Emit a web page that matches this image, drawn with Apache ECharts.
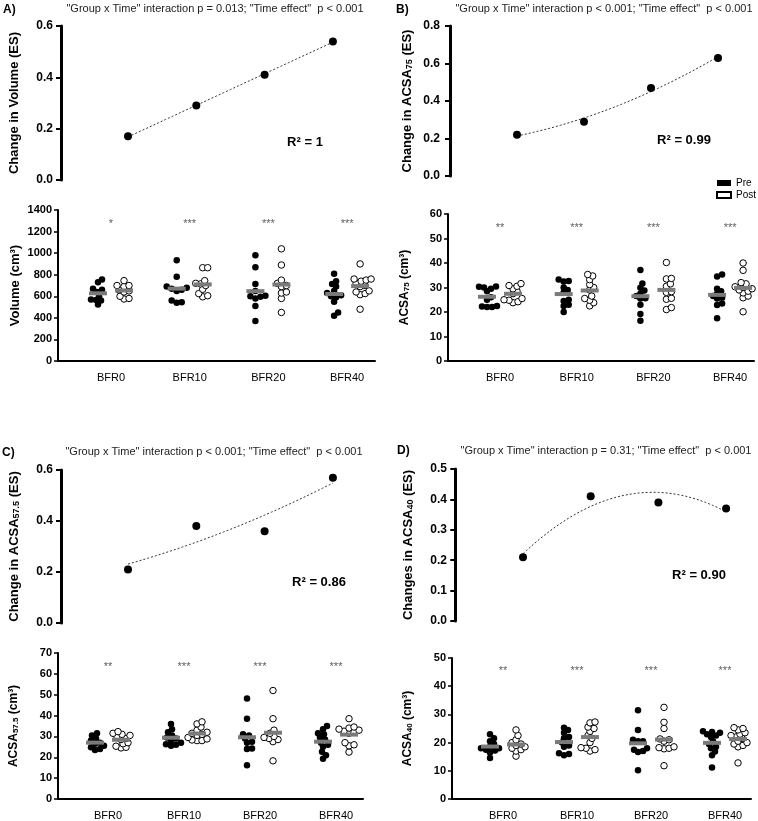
<!DOCTYPE html>
<html>
<head>
<meta charset="utf-8">
<script src="https://cdn.jsdelivr.net/npm/echarts@6/dist/echarts.min.js"></script>
<style>
  html, body { margin: 0; padding: 0; background: #fff; }
  #main { width: 758px; height: 821px; }
</style>
</head>
<body>
<div id="main"></div>
<script>
var FONT = '"Liberation Sans", Arial, sans-serif';
var groups = ['BFR0', 'BFR10', 'BFR20', 'BFR40'];

// change in effect size (top panels)
var esVolume = [0.17, 0.29, 0.41, 0.54];
var esAcsa75 = [0.22, 0.29, 0.47, 0.63];
var esAcsa575 = [0.21, 0.38, 0.36, 0.57];
var esAcsa40 = [0.21, 0.41, 0.39, 0.37];

// individual values, one list per group (BFR0, BFR10, BFR20, BFR40)
var volPre = [
  [525, 560, 565, 570, 600, 640, 660, 670, 730, 755],
  [540, 545, 560, 650, 660, 670, 680, 690, 780, 935],
  [370, 510, 580, 595, 600, 605, 650, 715, 870, 980],
  [420, 450, 550, 590, 600, 610, 630, 650, 690, 715, 740, 810]
];
var volPost = [
  [575, 580, 600, 640, 650, 660, 690, 700, 700, 745],
  [595, 605, 625, 665, 700, 715, 720, 745, 865, 865],
  [450, 580, 630, 640, 690, 700, 720, 750, 890, 1040],
  [480, 615, 625, 640, 650, 690, 700, 720, 740, 750, 760, 760, 900]
];
var a75Pre = [
  [22, 22, 22.2, 22.5, 25, 26, 28.5, 29.5, 30, 30.3, 30.4],
  [20, 22.5, 23, 24.5, 25, 28, 29, 30, 32.5, 32.7, 33.3],
  [16.4, 19.2, 23, 25.5, 25.6, 26.5, 27.5, 28.8, 29.9, 31.6, 37.1],
  [17.4, 22.9, 23.5, 25.5, 25.8, 26.5, 27.5, 28.5, 29.5, 34.5, 35.3]
];
var a75Post = [
  [23.8, 24.2, 24.8, 25, 25.5, 27.5, 28.5, 29.5, 30.5, 30.8, 31.6],
  [22.5, 23.8, 24.8, 25.5, 26.5, 29, 30, 31.2, 33.2, 34.7, 35.3],
  [21, 21.8, 25.2, 25.6, 28, 28.3, 30.5, 31.5, 33.5, 33.7, 40.2],
  [20.1, 25.8, 26.5, 27.8, 28.5, 29, 29.5, 30, 30.3, 31.5, 32, 37, 40]
];
var a575Pre = [
  [23.5, 24, 24.8, 25.5, 26.5, 27, 28, 29, 30.5, 31.5],
  [25.5, 26, 26.3, 27, 28, 29, 29.5, 30.5, 32, 33.5, 36],
  [16.2, 24, 24.2, 27, 27.5, 29, 30.5, 31, 38.5, 48.2],
  [19.3, 21, 22.6, 25, 26, 27, 28.5, 29.5, 31, 31.5, 33.5, 35]
];
var a575Post = [
  [24.5, 24.8, 25.3, 26.5, 27, 28.5, 29, 30, 30.5, 31, 31.5, 32.3],
  [28, 28, 28.3, 28.8, 29.5, 30.5, 31, 31.5, 32, 33, 34.5, 36, 37],
  [18.3, 27.5, 28.5, 29, 29.5, 30, 31.5, 33, 38.5, 52],
  [22.5, 25.5, 26, 27, 31.5, 32.5, 32, 33, 33.5, 34, 34.5, 38.5]
];
var a40Pre = [
  [14.5, 16.5, 17.2, 17.5, 18, 18, 18.5, 19.5, 20.5, 21.5, 23],
  [15.5, 16, 16.2, 18.5, 19, 20, 21.5, 22, 23.5, 24.5, 25.3],
  [10.2, 16.7, 17, 17.5, 18, 20.5, 20.5, 21, 24.5, 31.5],
  [11.2, 15.5, 16.8, 18, 18.5, 19.5, 20.5, 22, 22.5, 23, 23.5, 23.8, 24]
];
var a40Post = [
  [15.2, 17, 17.5, 18, 18.5, 19, 19.5, 20, 21, 22.5, 24.5],
  [17, 17.5, 18, 18.2, 20, 21.5, 22.5, 24, 25, 25.5, 27, 27.3],
  [11.8, 17.8, 18, 18.2, 18.5, 20.5, 21, 21.3, 25, 27.2, 32.5],
  [12.8, 18.5, 19, 19.5, 20, 20.5, 21.5, 22, 22.5, 23, 23.5, 24.5, 25, 25.3]
];

var starsVol = ['*', '***', '***', '***'];
var starsA75 = ['**', '***', '***', '***'];
var starsA575 = ['**', '***', '***', '***'];
var starsA40 = ['**', '***', '***', '***'];

var topTicks = { volume: [0, 0.6, 0.2], a75: [0, 0.8, 0.2], a575: [0, 0.6, 0.2], a40: [0, 0.5, 0.1] };
var botTicks = { volume: [0, 1400, 200], a75: [0, 60, 10], a575: [0, 70, 10], a40: [0, 50, 10] };

var subtitles = [
  '"Group x Time" interaction p = 0.013; "Time effect"  p < 0.001',
  '"Group x Time" interaction p < 0.001; "Time effect"  p < 0.001',
  '"Group x Time" interaction p < 0.001; "Time effect"  p < 0.001',
  '"Group x Time" interaction p = 0.31; "Time effect"  p < 0.001'
];
var r2Labels = ['R² = 1', 'R² = 0.99', 'R² = 0.86', 'R² = 0.90'];

// ---- layout (pixels) ----
var topPanels = [
  { es: esVolume, tk: topTicks.volume, deg: 1, left: 61, top: 26, bot: 180, right: 370, first: 128, step: 68.3,
    name: '{b|Change in Volume (ES)}', gap: 40 },
  { es: esAcsa75, tk: topTicks.a75, deg: 2, left: 448, top: 26, bot: 176, right: 752, first: 517, step: 67,
    name: '{b|Change in ACSA}{s|75}{b| (ES)}', gap: 34 },
  { es: esAcsa575, tk: topTicks.a575, deg: 2, left: 61, top: 470, bot: 623, right: 370, first: 128, step: 68.3,
    name: '{b|Change in ACSA}{s|57.5}{b| (ES)}', gap: 40 },
  { es: esAcsa40, tk: topTicks.a40, deg: 2, left: 455, top: 469, bot: 621, right: 752, first: 523, step: 67.7,
    name: '{b|Changes in ACSA}{s|40}{b| (ES)}', gap: 40 }
];
var botPanels = [
  { pre: volPre, post: volPost, stars: starsVol, tk: botTicks.volume, left: 58, top: 210, bot: 361, right: 375, first: 111, step: 78.7,
    name: '{b|Volume (cm³)}', fs: 13, gap: 36 },
  { pre: a75Pre, post: a75Post, stars: starsA75, tk: botTicks.a75, left: 448, top: 214, bot: 361, right: 754, first: 500, step: 76.7,
    name: '{b|ACSA}{s|75}{b| (cm³)}', fs: 12, gap: 37 },
  { pre: a575Pre, post: a575Post, stars: starsA575, tk: botTicks.a575, left: 58, top: 653, bot: 801, right: 363, first: 108, step: 76,
    name: '{b|ACSA}{s|57.5}{b| (cm³)}', fs: 12, gap: 38 },
  { pre: a40Pre, post: a40Post, stars: starsA40, tk: botTicks.a40, left: 452, top: 658, bot: 801, right: 751, first: 503, step: 74,
    name: '{b|ACSA}{s|40}{b| (cm³)}', fs: 12, gap: 38 }
];

function polyfit(ys, deg) {
  var n = deg + 1, A = [], b = [];
  for (var r = 0; r < n; r++) { A.push(new Array(n).fill(0)); b.push(0); }
  ys.forEach(function (y, i) {
    var x = i + 1;
    for (var r = 0; r < n; r++) {
      for (var c = 0; c < n; c++) A[r][c] += Math.pow(x, r + c);
      b[r] += y * Math.pow(x, r);
    }
  });
  for (var k = 0; k < n; k++) {
    for (var r2 = k + 1; r2 < n; r2++) {
      var f = A[r2][k] / A[k][k];
      for (var c2 = k; c2 < n; c2++) A[r2][c2] -= f * A[k][c2];
      b[r2] -= f * b[k];
    }
  }
  var coef = new Array(n);
  for (var k2 = n - 1; k2 >= 0; k2--) {
    var s = b[k2];
    for (var j = k2 + 1; j < n; j++) s -= A[k2][j] * coef[j];
    coef[k2] = s / A[k2][k2];
  }
  return coef;
}

// simple beeswarm: horizontal pixel offsets so dots don't pile up
function swarm(vals, pxPerVal, diam) {
  var order = vals.map(function (v, i) { return i; }).sort(function (a, b) { return vals[a] - vals[b]; });
  var placed = [], off = new Array(vals.length);
  order.forEach(function (i) {
    var y = vals[i] * pxPerVal;
    for (var k = 0; k < 60; k++) {
      var cand = k === 0 ? 0 : (k % 2 ? 1 : -1) * Math.ceil(k / 2);
      var ok = placed.every(function (p) {
        return (cand - p[0]) * (cand - p[0]) + (y - p[1]) * (y - p[1]) >= diam * diam;
      });
      if (ok || k === 59) { off[i] = cand; placed.push([cand, y]); break; }
    }
  });
  return off;
}

function mean(a) { return a.reduce(function (s, v) { return s + v; }, 0) / a.length; }

var grid = [], xAxis = [], yAxis = [], series = [];
var nameRich = function (fs) {
  return {
    b: { fontFamily: FONT, fontWeight: 'bold', fontSize: fs, color: '#000' },
    s: { fontFamily: FONT, fontWeight: 'bold', fontSize: Math.round(fs * 0.68), color: '#000', verticalAlign: 'bottom', padding: [4, 0, 0, 0] }
  };
};

topPanels.forEach(function (p, i) {
  var w = p.right - p.left, h = p.bot - p.top;
  var xmin = 1 - (p.first - p.left) / p.step;
  grid.push({ left: p.left, top: p.top, width: w, height: h });
  xAxis.push({ type: 'value', gridIndex: i, min: xmin, max: xmin + w / p.step, show: false });
  yAxis.push({
    type: 'value', gridIndex: i, min: p.tk[0], max: p.tk[1], interval: p.tk[2],
    name: p.name, nameLocation: 'middle', nameGap: p.gap, nameRotate: 90,
    nameTextStyle: { rich: nameRich(13) },
    axisLine: { show: true, lineStyle: { color: '#000', width: 3 } },
    axisTick: { show: true, length: 5, lineStyle: { color: '#000', width: 2 } },
    axisLabel: { fontFamily: FONT, fontWeight: 'bold', fontSize: 12, color: '#000', margin: 8,
      formatter: function (v) { return v.toFixed(1); } },
    splitLine: { show: false }
  });
  var coef = polyfit(p.es, p.deg), curve = [];
  for (var t = 0; t <= 60; t++) {
    var x = 1 + 3 * t / 60, y = 0;
    coef.forEach(function (c, j) { y += c * Math.pow(x, j); });
    curve.push([x, y]);
  }
  series.push({
    type: 'line', xAxisIndex: i, yAxisIndex: i, data: curve, showSymbol: false, silent: true,
    lineStyle: { color: '#333', width: 1, type: [2, 2] }, z: 1
  });
  series.push({
    type: 'scatter', xAxisIndex: i, yAxisIndex: i, symbolSize: 8,
    data: p.es.map(function (v, k) { return [k + 1, v]; }),
    itemStyle: { color: '#000', opacity: 1 }, z: 3
  });
});

botPanels.forEach(function (p, bi) {
  var i = bi + 4;
  var w = p.right - p.left, h = p.bot - p.top;
  var xmin = 1 - (p.first - p.left) / p.step;
  var pxPerVal = h / p.tk[1];
  grid.push({ left: p.left, top: p.top, width: w, height: h });
  xAxis.push({
    type: 'value', gridIndex: i, min: xmin, max: xmin + w / p.step,
    axisLine: { show: true, lineStyle: { color: '#000', width: 2 } },
    axisTick: { show: false },
    splitLine: { show: false },
    axisLabel: {
      customValues: [1, 2, 3, 4], fontFamily: FONT, fontSize: 11, color: '#000', margin: 11,
      formatter: function (v) { return groups[Math.round(v) - 1] || ''; }
    }
  });
  yAxis.push({
    type: 'value', gridIndex: i, min: p.tk[0], max: p.tk[1], interval: p.tk[2],
    name: p.name, nameLocation: 'middle', nameGap: p.gap, nameRotate: 90,
    nameTextStyle: { rich: nameRich(p.fs) },
    axisLine: { show: true, lineStyle: { color: '#000', width: 2 } },
    axisTick: { show: true, length: 4, lineStyle: { color: '#000', width: 1.5 } },
    axisLabel: { fontFamily: FONT, fontWeight: 'bold', fontSize: 11, color: '#000', margin: 6,
      formatter: function (v) { return String(v); } },
    splitLine: { show: false }
  });
  var preData = [], postData = [], means = [], starData = [];
  [p.pre, p.post].forEach(function (set, side) {
    set.forEach(function (vals, g) {
      var off = swarm(vals, pxPerVal, 4.6);
      var cx = g + 1 + (side ? 13 : -13) / p.step;
      vals.forEach(function (v, k) {
        (side ? postData : preData).push([cx + off[k] / p.step, v]);
      });
      means.push([cx, mean(vals)]);
    });
  });
  p.stars.forEach(function (s, g) { starData.push({ value: [g + 1, p.tk[1] * 0.905], label: { formatter: s } }); });
  series.push({
    name: 'Pre', type: 'scatter', xAxisIndex: i, yAxisIndex: i, symbol: 'circle', symbolSize: 6.5,
    data: preData, itemStyle: { color: '#000', opacity: 1 }, z: 2
  });
  series.push({
    name: 'Post', type: 'scatter', xAxisIndex: i, yAxisIndex: i, symbol: 'circle', symbolSize: 6.5,
    data: postData, itemStyle: { color: '#fff', borderColor: '#000', borderWidth: 1, opacity: 1 }, z: 2
  });
  series.push({
    type: 'scatter', xAxisIndex: i, yAxisIndex: i, symbol: 'rect', symbolSize: [18, 4],
    data: means, itemStyle: { color: '#7a7a7a', opacity: 1 }, z: 4, silent: true
  });
  series.push({
    type: 'scatter', xAxisIndex: i, yAxisIndex: i, symbolSize: 0, data: starData, silent: true,
    label: { show: true, position: 'inside', fontFamily: FONT, fontSize: 11, color: '#333' }
  });
});

var txt = function (x, y, s, opt) {
  return { type: 'text', x: x, y: y, style: Object.assign({ text: s, fontFamily: FONT, fill: '#000', align: 'center', verticalAlign: 'middle' }, opt || {}) };
};
var graphic = [
  txt(3, 10, 'A)', { align: 'left', fontWeight: 'bold', fontSize: 12 }),
  txt(396, 10, 'B)', { align: 'left', fontWeight: 'bold', fontSize: 12 }),
  txt(2, 453, 'C)', { align: 'left', fontWeight: 'bold', fontSize: 12 }),
  txt(397, 451, 'D)', { align: 'left', fontWeight: 'bold', fontSize: 12 }),
  txt(215, 9, subtitles[0], { fontSize: 11, fill: '#222' }),
  txt(604, 9, subtitles[1], { fontSize: 11, fill: '#222' }),
  txt(214, 452, subtitles[2], { fontSize: 11, fill: '#222' }),
  txt(606, 451, subtitles[3], { fontSize: 11, fill: '#222' }),
  txt(305, 142, r2Labels[0], { fontWeight: 'bold', fontSize: 13 }),
  txt(684, 140, r2Labels[1], { fontWeight: 'bold', fontSize: 13 }),
  txt(319, 582, r2Labels[2], { fontWeight: 'bold', fontSize: 13 }),
  txt(699, 575, r2Labels[3], { fontWeight: 'bold', fontSize: 13 })
];

var chart = echarts.init(document.getElementById('main'));
chart.setOption({
  animation: false,
  backgroundColor: '#fff',
  legend: {
    data: [{ name: 'Pre', icon: 'rect' }, { name: 'Post', icon: 'rect' }],
    orient: 'vertical', left: 711, top: 173, itemWidth: 14, itemHeight: 6, itemGap: 2,
    textStyle: { fontFamily: FONT, fontSize: 10, color: '#000' }
  },
  grid: grid,
  xAxis: xAxis,
  yAxis: yAxis,
  series: series,
  graphic: graphic
});
</script>
</body>
</html>
